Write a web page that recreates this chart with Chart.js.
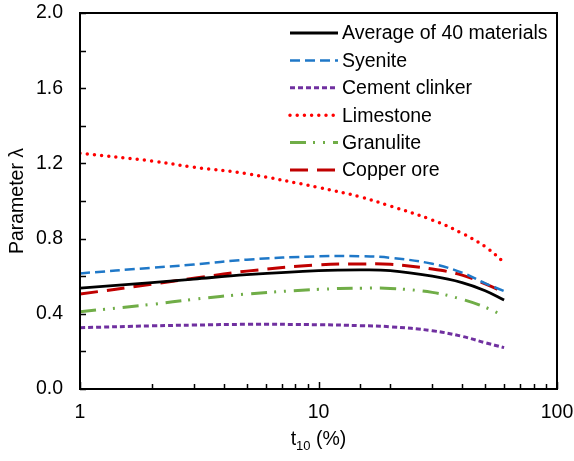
<!DOCTYPE html>
<html>
<head>
<meta charset="utf-8">
<script src="https://cdn.jsdelivr.net/npm/chart.js@4.4.0/dist/chart.umd.min.js"></script>
<style>
  html, body { margin: 0; padding: 0; background: #fff; }
  #wrap { width: 574px; height: 461px; }
</style>
</head>
<body>
<div id="wrap"><canvas id="lambdaChart" width="574" height="461"></canvas></div>
<script>
// t10 (%) sample points and lambda for each material
const t10 = [1, 2, 3, 5, 10, 15, 20, 30, 40, 50, 60];
const average = [0.537, 0.566, 0.585, 0.608, 0.630, 0.634, 0.630, 0.600, 0.566, 0.523, 0.473];
const syenite = [0.615, 0.645, 0.662, 0.688, 0.706, 0.706, 0.698, 0.666, 0.619, 0.562, 0.521];
const cementClinker = [0.326, 0.336, 0.340, 0.344, 0.342, 0.337, 0.331, 0.310, 0.280, 0.246, 0.220];
const limestone = [1.254, 1.213, 1.180, 1.145, 1.072, 1.022, 0.973, 0.899, 0.828, 0.757, 0.674];
const granulite = [0.411, 0.450, 0.477, 0.505, 0.530, 0.536, 0.535, 0.514, 0.477, 0.435, 0.388];
const copperOre = [0.505, 0.557, 0.589, 0.627, 0.660, 0.665, 0.663, 0.638, 0.606, 0.559, 0.514];

const yTickLabels = [0, 0.4, 0.8, 1.2, 1.6, 2.0];
const xTickLabels = [1, 10, 100];

const FONT = "'Liberation Sans', Arial, sans-serif";
const FONT_SIZE = 19.5;

function points(values) {
  return values.map((v, i) => ({ x: t10[i], y: v }));
}

// Box frame, inward tick marks, subscripted x title and the legend
const framePlugin = {
  id: "frame",
  afterDatasetsDraw(chart) {
    const ctx = chart.ctx;
    const area = chart.chartArea;
    const xs = chart.scales.x;
    const ys = chart.scales.y;
    ctx.save();
    ctx.strokeStyle = "#000";
    ctx.lineWidth = 2;
    ctx.setLineDash([]);
    ctx.strokeRect(area.left, area.top, area.right - area.left, area.bottom - area.top);

    ctx.lineWidth = 1.5;
    ctx.beginPath();
    xs.ticks.forEach((t) => {
      const px = Math.round(xs.getPixelForValue(t.value)) + 0.5;
      const major = Math.abs(Math.log10(t.value) % 1) < 1e-9;
      const len = major ? 7 : 5;
      ctx.moveTo(px, area.bottom);
      ctx.lineTo(px, area.bottom - len);
    });
    ys.ticks.forEach((t) => {
      const py = Math.round(ys.getPixelForValue(t.value)) + 0.5;
      ctx.moveTo(area.left, py);
      ctx.lineTo(area.left + 6, py);
    });
    ctx.stroke();

    // x axis title: t10 (%)
    ctx.fillStyle = "#000";
    ctx.textBaseline = "alphabetic";
    ctx.textAlign = "left";
    const big = FONT_SIZE + "px " + FONT;
    const small = "13px " + FONT;
    ctx.font = big;
    const wT = ctx.measureText("t").width;
    const wRest = ctx.measureText(" (%)").width;
    ctx.font = small;
    const wSub = ctx.measureText("10").width;
    let x = (area.left + area.right) / 2 - (wT + wSub + wRest) / 2;
    const base = 445;
    ctx.font = big;
    ctx.fillText("t", x, base);
    x += wT;
    ctx.font = small;
    ctx.fillText("10", x, base + 5);
    x += wSub;
    ctx.font = big;
    ctx.fillText(" (%)", x, base);

    // legend
    const lx = area.right - 267;
    const ly = area.top + 20;
    const rowGap = 27.4;
    ctx.font = big;
    ctx.textBaseline = "middle";
    chart.data.datasets.forEach((ds, i) => {
      const y = ly + i * rowGap;
      ctx.beginPath();
      ctx.strokeStyle = ds.borderColor;
      ctx.lineWidth = ds.borderWidth;
      ctx.lineCap = ds.borderCapStyle || "butt";
      ctx.setLineDash(ds.borderDash || []);
      ctx.moveTo(lx, y);
      ctx.lineTo(lx + 48, y);
      ctx.stroke();
      ctx.fillStyle = "#000";
      ctx.fillText(ds.label, lx + 52, y + 1);
    });
    ctx.restore();
  },
};

const ctx = document.getElementById("lambdaChart").getContext("2d");
new Chart(ctx, {
  type: "line",
  data: {
    datasets: [
      {
        label: "Average of 40 materials",
        data: points(average),
        borderColor: "#000000",
        borderWidth: 2.8,
        borderDash: [],
      },
      {
        label: "Syenite",
        data: points(syenite),
        borderColor: "#1f78c8",
        borderWidth: 2.5,
        borderDash: [10, 5],
      },
      {
        label: "Cement clinker",
        data: points(cementClinker),
        borderColor: "#7030a0",
        borderWidth: 3,
        borderDash: [5, 3],
      },
      {
        label: "Limestone",
        data: points(limestone),
        borderColor: "#ff0000",
        borderWidth: 3.5,
        borderDash: [0, 7.2],
        borderCapStyle: "round",
      },
      {
        label: "Granulite",
        data: points(granulite),
        borderColor: "#70ad47",
        borderWidth: 3,
        borderDash: [16, 7, 2, 8, 2, 8],
      },
      {
        label: "Copper ore",
        data: points(copperOre),
        borderColor: "#c00000",
        borderWidth: 3,
        borderDash: [18, 9],
      },
    ],
  },
  options: {
    responsive: false,
    animation: false,
    layout: { padding: { top: 13, right: 17, left: 0, bottom: 0 } },
    elements: {
      point: { radius: 0 },
      line: { tension: 0.4 },
    },
    plugins: {
      legend: { display: false },
      tooltip: { enabled: false },
    },
    scales: {
      x: {
        type: "logarithmic",
        min: 1,
        max: 100,
        grid: { display: false, drawTicks: false },
        border: { display: false },
        ticks: {
          autoSkip: false,
          maxRotation: 0,
          padding: 12,
          color: "#000",
          font: { family: FONT, size: FONT_SIZE },
          callback: (v) => (xTickLabels.includes(v) ? String(v) : ""),
        },
        afterFit: (scale) => {
          scale.height = 72;
          scale.paddingLeft = 0;
          scale.paddingRight = 0;
        },
      },
      y: {
        min: 0,
        max: 2,
        grid: { display: false, drawTicks: false },
        border: { display: false },
        ticks: {
          stepSize: 0.2,
          padding: 17,
          color: "#000",
          font: { family: FONT, size: FONT_SIZE },
          callback: (v) =>
            yTickLabels.some((t) => Math.abs(t - v) < 1e-6) ? v.toFixed(1) : "",
        },
        title: {
          display: true,
          text: "Parameter λ",
          color: "#000",
          font: { family: FONT, size: FONT_SIZE },
          padding: { top: 6, bottom: 0 },
        },
        afterFit: (scale) => {
          scale.width = 80;
          scale.paddingTop = 0;
          scale.paddingBottom = 0;
        },
      },
    },
  },
  plugins: [framePlugin],
});
</script>
</body>
</html>
